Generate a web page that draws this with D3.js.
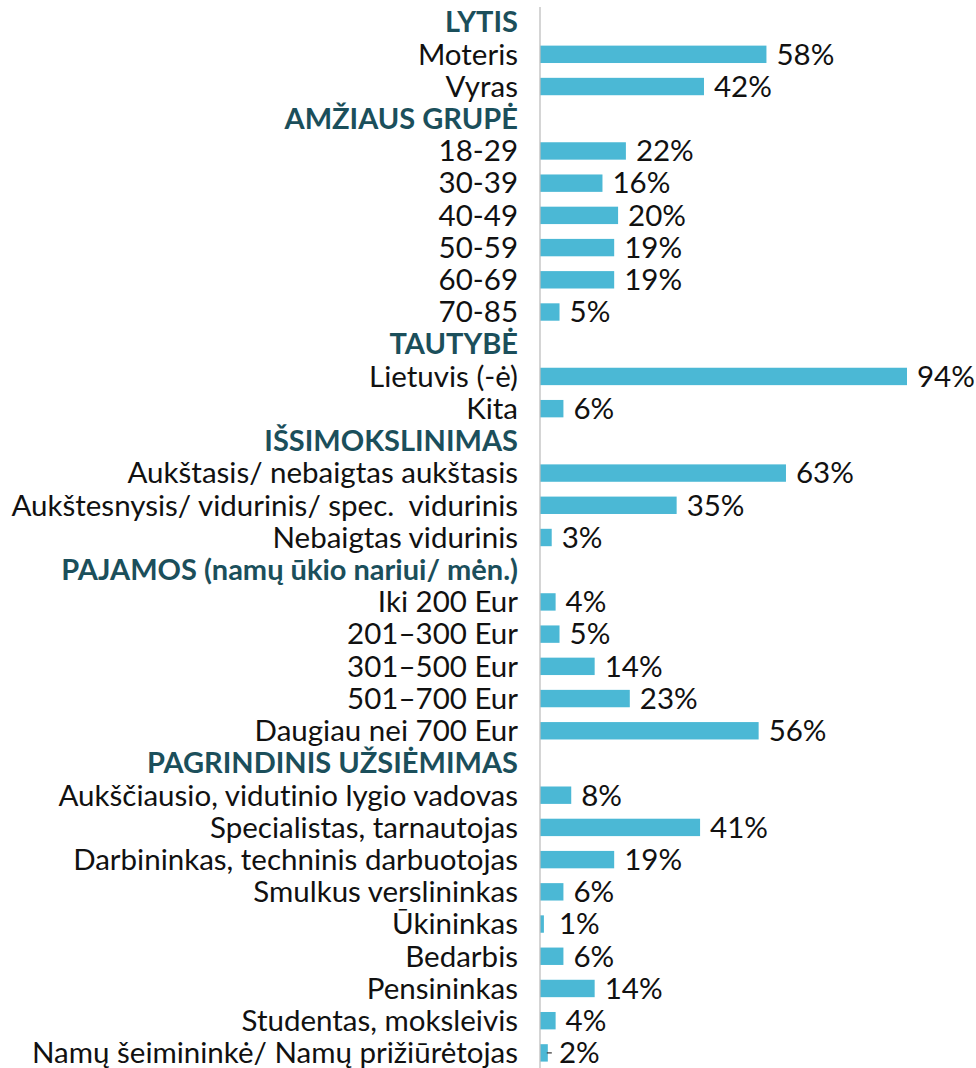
<!DOCTYPE html>
<html lang="lt">
<head>
  <meta charset="utf-8">
  <title>Respondentų profilis</title>
  <script src="https://d3js.org/d3.v7.min.js"></script>
  <style>
    html, body { margin: 0; padding: 0; background: #fff; }
    svg { display: block; }
    text { font-family: Lato, "Open Sans", sans-serif; white-space: pre; font-variant-ligatures: none; }
  </style>
</head>
<body>
  <svg id="chart" width="976" height="1068"></svg>
  <script>
    // rows in display order; null value = group heading
    const labels = [
      "LYTIS", "Moteris", "Vyras",
      "AMŽIAUS GRUPĖ", "18-29", "30-39", "40-49", "50-59", "60-69", "70-85",
      "TAUTYBĖ", "Lietuvis (-ė)", "Kita",
      "IŠSIMOKSLINIMAS", "Aukštasis/ nebaigtas aukštasis", "Aukštesnysis/ vidurinis/ spec.  vidurinis", "Nebaigtas vidurinis",
      "PAJAMOS (namų ūkio nariui/ mėn.)", "Iki 200 Eur", "201–300 Eur", "301–500 Eur", "501–700 Eur", "Daugiau nei 700 Eur",
      "PAGRINDINIS UŽSIĖMIMAS", "Aukščiausio, vidutinio lygio vadovas", "Specialistas, tarnautojas",
      "Darbininkas, techninis darbuotojas", "Smulkus verslininkas", "Ūkininkas", "Bedarbis",
      "Pensininkas", "Studentas, moksleivis", "Namų šeimininkė/ Namų prižiūrėtojas"
    ];
    const values = [
      null, 58, 42,
      null, 22, 16, 20, 19, 19, 5,
      null, 94, 6,
      null, 63, 35, 3,
      null, 4, 5, 14, 23, 56,
      null, 8, 41, 19, 6, 1, 6, 14, 4, 2
    ];

    const rows = labels.map((l, i) => ({ i, label: l, value: values[i], head: values[i] === null }));

    const svg = d3.select("#chart");
    const x0 = 540;
    const fs = 29.5;

    const y = d3.scaleBand()
      .domain(rows.map(d => d.i))
      .range([6, 1069])
      .paddingInner(0.46)
      .paddingOuter(0.23);

    const x = d3.scaleLinear().domain([0, 94]).range([x0, 907]);

    // category labels
    svg.append("g")
      .selectAll("text")
      .data(rows)
      .join("text")
      .attr("x", 518)
      .attr("y", d => y(d.i) + y.bandwidth() / 2)
      .attr("dy", "0.35em")
      .attr("text-anchor", "end")
      .attr("font-size", d => d.head ? fs - 0.5 : fs)
      .attr("font-weight", d => d.head ? 700 : 400)
      .attr("fill", d => d.head ? "#1b4f5b" : "#111")
      .text(d => d.label);

    const data = rows.filter(d => !d.head);

    svg.append("g")
      .selectAll("rect")
      .data(data)
      .join("rect")
      .attr("x", x0)
      .attr("y", d => y(d.i))
      .attr("width", d => x(d.value) - x0)
      .attr("height", y.bandwidth())
      .attr("fill", "#4bb8d5");

    // value labels
    svg.append("g")
      .selectAll("text")
      .data(data)
      .join("text")
      .attr("x", d => Math.max(x(d.value) + 10, x0 + 19))
      .attr("y", d => y(d.i) + y.bandwidth() / 2)
      .attr("dy", "0.35em")
      .attr("font-size", fs)
      .attr("fill", "#111")
      .text(d => d.value + "%");

    // little leader line where the label sits away from a tiny bar
    svg.append("g")
      .selectAll("line")
      .data(data.filter(d => d.value === 2))
      .join("line")
      .attr("x1", d => x(d.value) - 1)
      .attr("x2", d => x(d.value) + 4)
      .attr("y1", d => y(d.i) + y.bandwidth() / 2)
      .attr("y2", d => y(d.i) + y.bandwidth() / 2)
      .attr("stroke", "#333")
      .attr("stroke-width", 1.2);

    // vertical axis line
    svg.append("line")
      .attr("x1", x0).attr("x2", x0)
      .attr("y1", 7).attr("y2", 1068)
      .attr("stroke", "#bfbfbf")
      .attr("stroke-width", 1.3);
  </script>
</body>
</html>
